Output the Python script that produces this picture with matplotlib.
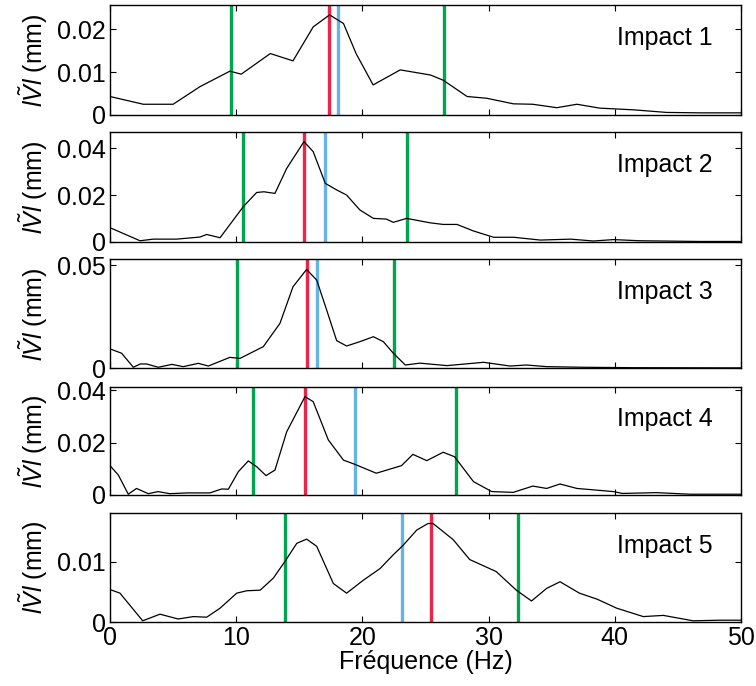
import numpy as np
import matplotlib.pyplot as plt

plt.rcParams['font.family'] = ['Liberation Sans', 'DejaVu Sans']
plt.rcParams['mathtext.fontset'] = 'custom'
plt.rcParams['mathtext.rm'] = 'Liberation Sans'
plt.rcParams['mathtext.it'] = 'Liberation Sans:italic'
plt.rcParams['lines.solid_joinstyle'] = 'round'

# spectra (frequency in Hz, amplitude in mm)
f1 = [0, 2.64, 5.0, 7.13, 9.5, 10.4, 12.7, 14.5, 16.1, 17.4, 18.5, 19.5, 20.85,
      23.0, 25.4, 26.4, 28.3, 29.85, 31.96, 33.5, 35.4, 37.0, 38.8, 41.5, 44.1, 46.75, 50]
v1 = [0.0043, 0.0025, 0.0025, 0.0066, 0.0102, 0.0095, 0.0143, 0.0126, 0.0205, 0.0233,
      0.0213, 0.0143, 0.0070, 0.0105, 0.0093, 0.0081, 0.0043, 0.0039, 0.0026, 0.0025,
      0.0017, 0.0025, 0.0016, 0.0012, 0.0006, 0.0005, 0.0005]

f2 = [0, 2.38, 3.43, 5.28, 7.13, 7.66, 8.72, 10.56, 11.62, 12.2, 13.07, 14.0, 15.37,
      16.1, 17.06, 17.96, 18.75, 19.8, 20.87, 21.9, 22.45, 23.5, 25.36, 26.4, 27.5,
      28.8, 30.4, 32.0, 34.1, 36.5, 38.3, 39.9, 42.0, 46.75, 50]
v2 = [0.006, 0.0004, 0.0011, 0.0011, 0.002, 0.0031, 0.0017, 0.015, 0.0211, 0.0214,
      0.0207, 0.0314, 0.0429, 0.0386, 0.025, 0.0222, 0.02, 0.0136, 0.010, 0.0097,
      0.0083, 0.010, 0.0081, 0.0074, 0.0074, 0.0046, 0.0019, 0.0019, 0.0007, 0.0011,
      0.0003, 0.0009, 0.0004, 0.0001, 0.0001]

f3 = [0, 0.92, 1.85, 2.4, 2.9, 3.83, 4.9, 5.8, 7.0, 7.79, 9.5, 10.3, 12.15, 13.47,
      14.5, 15.58, 16.38, 17.17, 17.96, 18.75, 19.8, 20.87, 21.66, 22.45, 23.4, 24.56,
      26.7, 29.6, 31.7, 33.0, 34.6, 37.5, 41.4, 50]
v3 = [0.0094, 0.0073, 0.0005, 0.0021, 0.0021, 0.0005, 0.0019, 0.0008, 0.0024, 0.0011,
      0.0053, 0.0048, 0.0105, 0.0218, 0.0395, 0.0479, 0.0427, 0.0282, 0.0134, 0.0108,
      0.0129, 0.0153, 0.0129, 0.0073, 0.0016, 0.0025, 0.0013, 0.0029, 0.0011, 0.0016,
      0.0008, 0.0005, 0.0003, 0.0002]

f4 = [0, 0.66, 1.45, 2.1, 3.04, 3.8, 4.75, 6.08, 7.92, 8.85, 9.38, 10.17, 10.96, 11.62,
      12.36, 13.07, 14.0, 15.45, 16.1, 17.3, 18.5, 19.4, 21.1, 22.2, 23.1, 24.0, 25.1,
      26.4, 27.3, 28.8, 30.25, 31.96, 33.5, 34.6, 35.66, 37.0, 39.9, 40.6, 43.3, 45.96, 50]
v4 = [0.0112, 0.0076, 0.0003, 0.0025, 0.0005, 0.0013, 0.0005, 0.0008, 0.0008, 0.0023,
      0.0022, 0.0089, 0.013, 0.0108, 0.0074, 0.0095, 0.0241, 0.0375, 0.0356, 0.021,
      0.0133, 0.0117, 0.0083, 0.0099, 0.0112, 0.0155, 0.0131, 0.0163, 0.0146, 0.0051,
      0.0013, 0.001, 0.0034, 0.0025, 0.0042, 0.0025, 0.0013, 0.0006, 0.0009, 0.0003, 0.0003]

f5 = [0, 0.79, 2.59, 3.96, 5.4, 6.6, 7.66, 8.72, 10.04, 10.83, 11.9, 12.94, 13.87, 14.8,
      15.58, 16.38, 17.7, 18.75, 20.1, 21.4, 22.45, 23.24, 24.3, 25.2, 25.6, 27.2, 28.5,
      30.6, 32.2, 33.4, 34.6, 35.66, 37.2, 38.6, 40.15, 42.26, 43.85, 46.2, 48.3, 50]
v5 = [0.0054, 0.0048, 0.0002, 0.0013, 0.0005, 0.0009, 0.0008, 0.0023, 0.0048, 0.0052,
      0.0053, 0.0073, 0.0101, 0.0131, 0.0138, 0.0126, 0.0064, 0.0048, 0.007, 0.0089,
      0.0112, 0.0128, 0.0153, 0.0164, 0.0164, 0.0137, 0.0104, 0.0084, 0.0053, 0.0035,
      0.0056, 0.0067, 0.0048, 0.0038, 0.0023, 0.0009, 0.0011, 0.0002, 0.0003, 0.0003]

freqs = [f1, f2, f3, f4, f5]
amps = [v1, v2, v3, v4, v5]

# marker frequencies (Hz)
green_lo = [9.6, 10.5, 10.1, 11.36, 13.87]
green_hi = [26.5, 23.5, 22.5, 27.42, 32.35]
red_f = [17.38, 15.35, 15.6, 15.45, 25.4]
blue_f = [18.03, 17.06, 16.38, 19.41, 23.1]

ymax = [0.0256, 0.0469, 0.0528, 0.0413, 0.0181]
yticks = [[0, 0.01, 0.02], [0, 0.02, 0.04], [0, 0.05], [0, 0.02, 0.04], [0, 0.01]]
labels = ['Impact 1', 'Impact 2', 'Impact 3', 'Impact 4', 'Impact 5']

W, H = 756, 686
fig = plt.figure(figsize=(W / 100, H / 100), dpi=100)

tops = [5, 132.3, 259.3, 386.7, 513.3]
bots = [115, 241.7, 368.3, 495, 622]
left, right = 110, 741

green = '#00A550'
red = '#EE2348'
blue = '#65B4E6'
fs = 18

for i in range(5):
    ax = fig.add_axes([left / W, 1 - bots[i] / H, (right - left) / W, (bots[i] - tops[i]) / H])
    ax.plot(freqs[i], amps[i], color='black', lw=0.9, zorder=3)
    ax.axvline(green_lo[i], color=green, lw=2.4, zorder=2)
    ax.axvline(green_hi[i], color=green, lw=2.4, zorder=2)
    ax.axvline(red_f[i], color=red, lw=2.4, zorder=2)
    ax.axvline(blue_f[i], color=blue, lw=2.4, zorder=2)
    ax.set_xlim(0, 50)
    ax.set_ylim(0, ymax[i])
    ax.set_xticks([0, 10, 20, 30, 40, 50])
    ax.set_yticks(yticks[i])
    ax.set_yticklabels(['0' if t == 0 else f'{t:g}' for t in yticks[i]])
    ax.tick_params(direction='in', top=True, right=True, length=4, width=0.8,
                   labelsize=fs, pad=3)
    if i < 4:
        ax.tick_params(labelbottom=False)
    for s in ax.spines.values():
        s.set_linewidth(1.0)
    ax.text(0.955, 0.70, labels[i], transform=ax.transAxes, ha='right', va='center',
            fontsize=fs)
    ax.set_ylabel(r'$\mathit{l}\tilde{\mathit{V}}\mathit{l}$ (mm)', fontsize=fs)
    ax.yaxis.set_label_coords(-0.095, 0.5)
    if i == 4:
        ax.set_xlabel('Fréquence (Hz)', fontsize=fs, labelpad=0)

plt.savefig('out.png', dpi=100)
